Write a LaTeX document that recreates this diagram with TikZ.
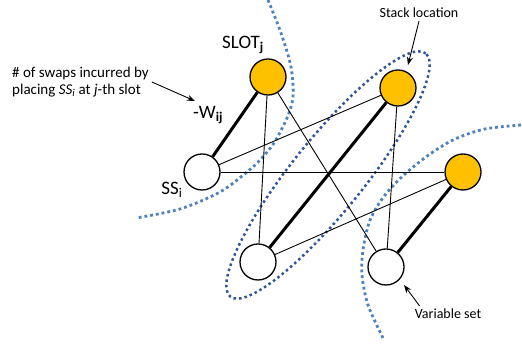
\documentclass[tikz,border=0pt]{standalone}
\usepackage{fontspec}
\setmainfont{Carlito}
\usetikzlibrary{positioning,arrows.meta}
\definecolor{slotgold}{HTML}{FFC000}
\definecolor{setblue}{HTML}{4F81BD}
\definecolor{stackblue}{HTML}{2F5597}
\tikzset{
    slot/.style={circle, draw, line width=1.3pt, fill=slotgold, minimum size=36pt, inner sep=0pt},
    var/.style={circle, draw, line width=1.3pt, fill=white, minimum size=36pt, inner sep=0pt},
    assign/.style={line width=3pt},
    link/.style={line width=0.9pt},
    setline/.style={setblue, line width=2.8pt, dash pattern=on 2.8pt off 3pt},
    stackline/.style={stackblue, line width=2.5pt, dash pattern=on 2.5pt off 3pt},
    note/.style={font=\fontsize{14}{17}\selectfont, inner sep=3pt},
    biglabel/.style={font=\fontsize{19}{22}\selectfont, inner sep=1pt},
    pointer/.style={-{Stealth[length=8pt,width=6pt]}, line width=0.9pt}
}

\begin{document}
\begin{tikzpicture}[x=1pt, y=1pt]
    \useasboundingbox (0,0) rectangle (522,344);

    % dotted sets
    \draw[setline] plot[smooth] coordinates {(268,344) (281,311) (291,277) (293,247) (287,226) (274,201) (260,184) (247,172) (220,152) (180,135) (136,126)};
    \draw[setline] plot[smooth] coordinates {(521,219) (485,215) (455,205) (430,190) (405,170) (385,149) (370,124) (363,94) (362,69) (368,39) (383,6)};
    \draw[stackline] (328,169) ellipse[x radius=156, y radius=36, rotate=51.2];

    % slots and variables
    \node[slot] (slotA) at (268,267) {};
    \node[slot] (slotB) at (398,256) {};
    \node[slot] (slotC) at (463,172) {};
    \node[var] (varA) at (202,172) {};
    \node[var] (varB) at (258,82) {};
    \node[var] (varC) at (386,77) {};

    \foreach \s/\v in {slotA/varB, slotA/varC, slotB/varA, slotB/varC, slotC/varA, slotC/varB}
        \draw[link] (\s) -- (\v);
    \foreach \s/\v in {slotA/varA, slotB/varB, slotC/varC}
        \draw[assign] (\s) -- (\v);

    % labels
    \node[biglabel] (slotlabel) at (243,299) {SLOT\textsubscript{\textbf{j}}};
    \node[biglabel] (weight) at (208,229) {-W\textsubscript{\textbf{ij}}};
    \node[biglabel] (sslabel) at (172,154) {SS\textsubscript{i}};

    \node[note, font=\fontsize{15}{17}\selectfont, anchor=west, align=left] (swapnote) at (9,262) {\# of swaps incurred by\\placing \textit{SS\textsubscript{i}} at \textit{j}-th slot};
    \coordinate (swaptip) at (195,243);
    \draw[pointer] (swapnote.east) -- (swaptip);

    \node[note] (stacknote) at (419,331) {Stack location};
    \coordinate (stacktip) at (408,279);
    \draw[pointer] (stacknote.south) -- (stacktip);

    \node[note] (varnote) at (448,30) {Variable set};
    \coordinate (vartip) at (404,59);
    \draw[pointer] ([xshift=8pt]varnote.north west) -- (vartip);
\end{tikzpicture}
\end{document}
